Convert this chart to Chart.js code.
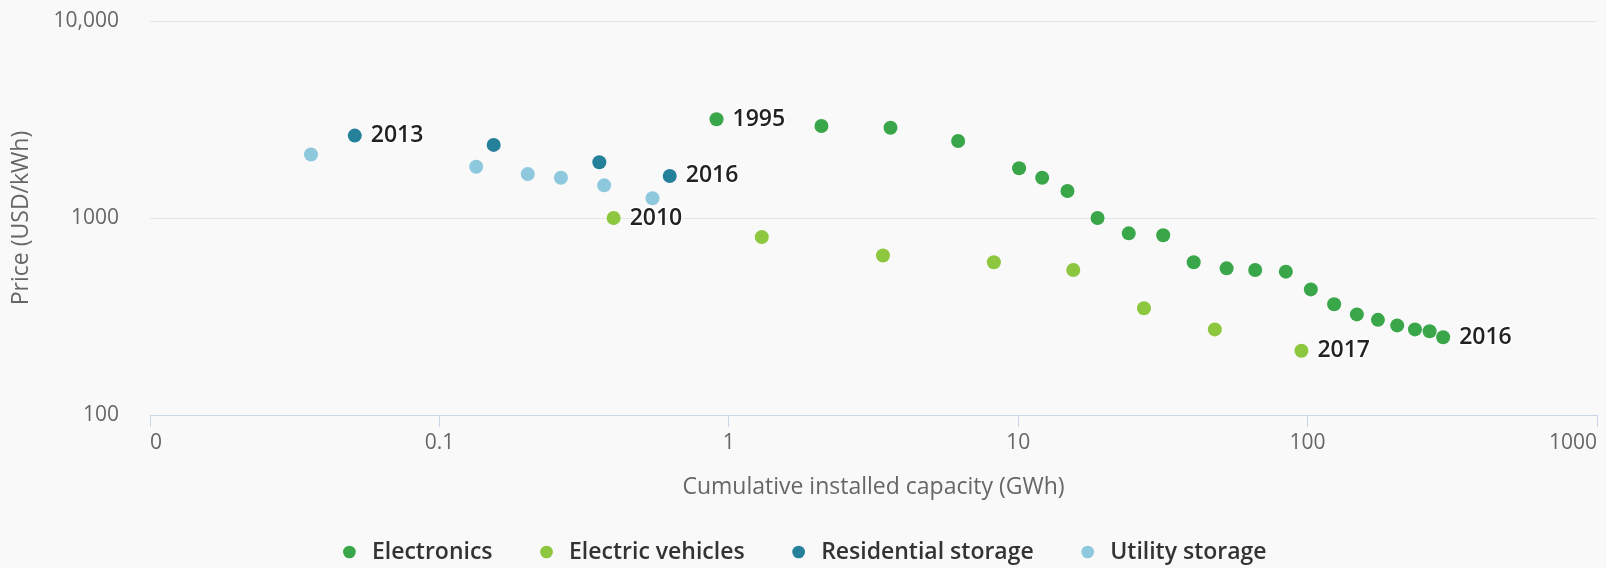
<!DOCTYPE html>
<html>
<head>
<meta charset="utf-8">
<script src="https://cdn.jsdelivr.net/npm/chart.js@4/dist/chart.umd.min.js"></script>
<style>
  html, body { margin: 0; padding: 0; background: #f9f9f9; }
  #wrap { width: 1606px; height: 568px; }
</style>
</head>
<body>
<div id="wrap"><canvas id="costChart" width="1606" height="568"></canvas></div>
<script>
// cumulative installed capacity (GWh) vs. price (USD/kWh)
const electronicsGWh   = [0.907, 2.09, 3.62, 6.2, 10.07, 12.1, 14.8, 18.8, 24.1, 31.7, 40.4,
                          52.5, 65.9, 84.1, 102.6, 123.5, 148, 175, 204, 235, 264, 294];
const electronicsPrice = [3170, 2930, 2870, 2460, 1790, 1600, 1370, 1000, 836, 817, 596,
                          555, 545, 534, 434, 365, 324, 304, 285, 272, 266, 248];

const evGWh   = [0.4, 1.3, 3.41, 8.24, 15.5, 27.2, 47.8, 95.2];
const evPrice = [1000, 800, 645, 596, 545, 348, 272, 212];

const residentialGWh   = [0.051, 0.154, 0.357, 0.625];
const residentialPrice = [2620, 2350, 1920, 1635];

const utilityGWh   = [0.036, 0.134, 0.202, 0.263, 0.371, 0.545];
const utilityPrice = [2100, 1820, 1670, 1600, 1465, 1260];

// year shown next to the first and last point of a series
const electronicsYears = ['1995', '2016'];
const evYears          = ['2010', '2017'];
const residentialYears = ['2013', '2016'];
const utilityYears     = [];

const xTickValues = [0.01, 0.1, 1, 10, 100, 1000];
const xTickLabels = ['0', '0.1', '1', '10', '100', '1000'];
const yTickValues = [100, 1000, 10000];
const yTickLabels = ['100', '1000', '10,000'];

const FONT = "'Open Sans', 'Noto Sans', sans-serif";

const toPoints = (xs, ys) => xs.map((x, i) => ({x: x, y: ys[i]}));

function series(label, xs, ys, color, years) {
  return {
    label: label,
    data: toPoints(xs, ys),
    backgroundColor: color,
    borderColor: color,
    borderWidth: 0,
    pointRadius: 7,
    pointHoverRadius: 7,
    years: years
  };
}

// draws the start / end year beside a series
const yearLabels = {
  id: 'yearLabels',
  afterDatasetsDraw(chart) {
    const ctx = chart.ctx;
    ctx.save();
    ctx.font = '600 23px ' + FONT;
    ctx.textAlign = 'left';
    ctx.textBaseline = 'middle';
    ctx.lineJoin = 'round';
    chart.data.datasets.forEach((ds, i) => {
      const years = ds.years || [];
      if (!years.length) return;
      const pts = chart.getDatasetMeta(i).data;
      [pts[0], pts[pts.length - 1]].forEach((pt, k) => {
        const tx = pt.x + 16, ty = pt.y;
        ctx.strokeStyle = 'rgba(255,255,255,0.9)';
        ctx.lineWidth = 3;
        ctx.strokeText(years[k], tx, ty);
        ctx.fillStyle = '#222222';
        ctx.fillText(years[k], tx, ty);
      });
    });
    ctx.restore();
  }
};

new Chart(document.getElementById('costChart'), {
  type: 'scatter',
  data: {
    datasets: [
      series('Electronics', electronicsGWh, electronicsPrice, '#3aa64a', electronicsYears),
      series('Electric vehicles', evGWh, evPrice, '#8dc63f', evYears),
      series('Residential storage', residentialGWh, residentialPrice, '#25809a', residentialYears),
      series('Utility storage', utilityGWh, utilityPrice, '#8dc8dd', utilityYears)
    ]
  },
  options: {
    responsive: false,
    animation: false,
    layout: { padding: { left: 8, right: 9, top: 21, bottom: -5.5 } },
    plugins: {
      tooltip: { enabled: false },
      legend: {
        position: 'bottom',
        labels: {
          usePointStyle: true,
          pointStyle: 'circle',
          boxWidth: 22,
          boxHeight: 9,
          padding: 43,
          color: '#333333',
          font: { family: FONT, size: 23, weight: '600' }
        }
      }
    },
    scales: {
      x: {
        type: 'logarithmic',
        min: 0.01,
        max: 1000,
        afterBuildTicks: s => { s.ticks = xTickValues.map(v => ({value: v})); },
        afterFit: s => { s.height = 82.5; },
        border: { display: true, color: '#ccd6eb', width: 1 },
        grid: { drawOnChartArea: false, drawTicks: true, tickLength: 12, color: '#ccd6eb' },
        ticks: {
          align: 'inner',
          padding: 3,
          color: '#666666',
          font: { family: FONT, size: 21 },
          callback: (v, i) => xTickLabels[i]
        },
        title: {
          display: true,
          text: 'Cumulative installed capacity (GWh)',
          color: '#666666',
          font: { family: FONT, size: 23 },
          padding: { top: 0, bottom: -3.8 }
        }
      },
      y: {
        type: 'logarithmic',
        min: 100,
        max: 10000,
        afterBuildTicks: s => { s.ticks = yTickValues.map(v => ({value: v})); },
        afterFit: s => { s.width = 142; },
        border: { display: false },
        grid: {
          drawTicks: true,
          tickLength: 28,
          tickColor: 'rgba(0,0,0,0)',
          color: c => (c.tick && c.tick.value === 100) ? 'rgba(0,0,0,0)' : '#e6e6e6'
        },
        ticks: {
          padding: 3,
          color: '#666666',
          font: { family: FONT, size: 21 },
          callback: (v, i) => yTickLabels[i]
        },
        title: {
          display: true,
          text: 'Price (USD/kWh)',
          color: '#666666',
          font: { family: FONT, size: 23 },
          padding: { top: 0, bottom: 0 }
        }
      }
    }
  },
  plugins: [yearLabels]
});
</script>
</body>
</html>
